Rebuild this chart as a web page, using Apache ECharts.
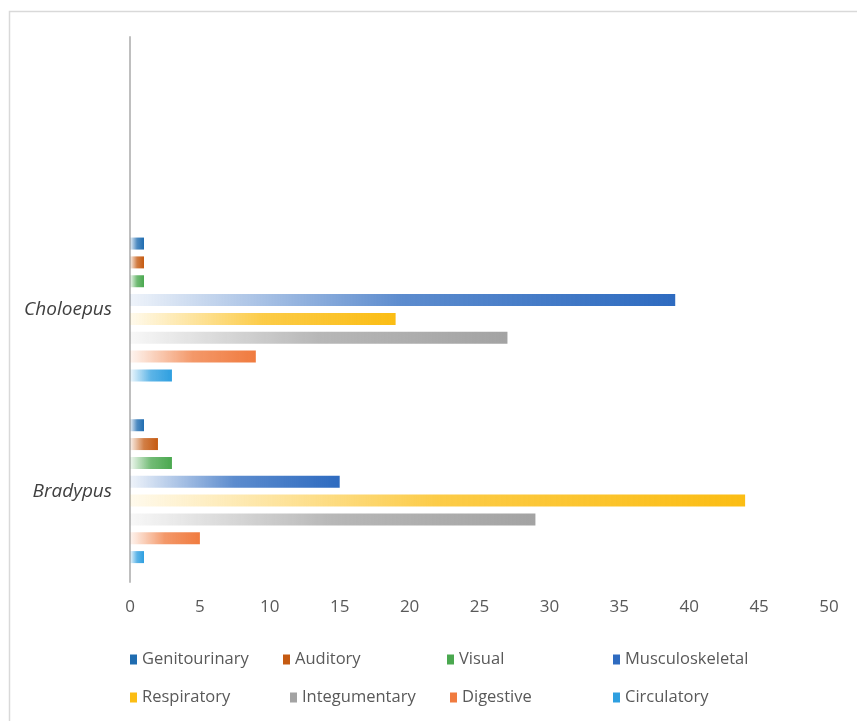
<!DOCTYPE html>
<html>
<head>
<meta charset="utf-8">
<script src="https://cdn.jsdelivr.net/npm/echarts@6/dist/echarts.min.js"></script>
<style>
  html, body { margin: 0; padding: 0; background: #fff; }
  #chart { width: 857px; height: 721px; }
</style>
</head>
<body>
<div id="chart"></div>
<script>
// categories from bottom to top; the top band is empty in the source
const categories = ['Bradypus', 'Choloepus', '']
const seriesNames = ['Genitourinary', 'Auditory', 'Visual', 'Musculoskeletal',
  'Respiratory', 'Integumentary', 'Digestive', 'Circulatory']
const genitourinary = [1, 1, null]
const auditory = [2, 1, null]
const visual = [3, 1, null]
const musculoskeletal = [15, 39, null]
const respiratory = [44, 19, null]
const integumentary = [29, 27, null]
const digestive = [5, 9, null]
const circulatory = [1, 3, null]
const xTicks = [0, 5, 10, 15, 20, 25, 30, 35, 40, 45, 50]

const values = [genitourinary, auditory, visual, musculoskeletal,
  respiratory, integumentary, digestive, circulatory]
const colors = ['#1f6cb0', '#c55a11', '#4aa84f', '#2e6bc0',
  '#fbbd14', '#a3a3a3', '#f07b3f', '#2e9fe0']
// legend grid positions
const legendPos = [
  [125, 646], [278, 646], [442, 646], [608, 646],
  [125, 684], [285, 684], [445, 684], [608, 684],
]

const fade = (hex, a) => {
  const n = parseInt(hex.slice(1), 16)
  return `rgba(${n >> 16},${(n >> 8) & 255},${n & 255},${a})`
}

const chart = echarts.init(document.getElementById('chart'))
const font = '"Open Sans", "Liberation Sans", sans-serif'

chart.setOption({
  animation: false,
  textStyle: { fontFamily: font },
  graphic: [{
    type: 'rect',
    shape: { x: 9.5, y: 11.5, width: 900, height: 800 },
    style: { fill: 'none', stroke: '#d9d9d9', lineWidth: 1.5 },
  }],
  grid: { left: 130, right: 28, top: 37, bottom: 139 },
  legend: seriesNames.map((name, i) => ({
    data: [name],
    left: legendPos[i][0],
    top: legendPos[i][1],
    itemWidth: 7,
    itemHeight: 10,
    itemGap: 4,
    icon: 'rect',
    itemStyle: { color: colors[i] },
    textStyle: { fontSize: 16.5, color: '#595959', fontFamily: font },
  })),
  xAxis: {
    type: 'value',
    min: 0,
    max: 50,
    interval: 5,
    axisLine: { show: false },
    axisTick: { show: false },
    splitLine: { show: false },
    axisLabel: { fontSize: 17, color: '#595959', margin: 17 },
  },
  yAxis: {
    type: 'category',
    data: categories,
    axisLine: { lineStyle: { color: '#bfbfbf', width: 2 } },
    axisTick: { show: false },
    axisLabel: { fontSize: 19, color: '#404040', fontStyle: 'italic', margin: 18 },
  },
  series: seriesNames.map((name, i) => ({
    name,
    type: 'bar',
    data: values[i],
    barWidth: 12,
    barGap: '57%',
    color: colors[i],
    itemStyle: {
      color: new echarts.graphic.LinearGradient(0, 0, 1, 0, [
        { offset: 0, color: fade(colors[i], 0.08) },
        { offset: 0.5, color: fade(colors[i], 0.78) },
        { offset: 1, color: colors[i] },
      ]),
    },
  })),
})
</script>
</body>
</html>
